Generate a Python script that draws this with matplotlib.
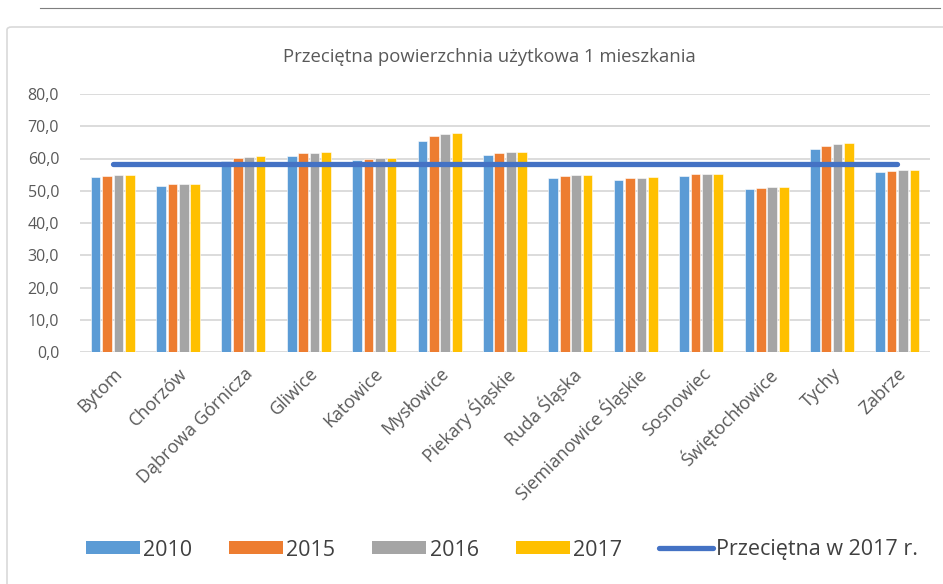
import numpy as np
import matplotlib.pyplot as plt
from matplotlib.patches import FancyBboxPatch, Patch
from matplotlib.lines import Line2D
from matplotlib.ticker import FuncFormatter

plt.rcParams['font.family'] = ['Open Sans', 'DejaVu Sans']

cities = ['Bytom', 'Chorzów', 'Dąbrowa Górnicza', 'Gliwice', 'Katowice',
          'Mysłowice', 'Piekary Śląskie', 'Ruda Śląska', 'Siemianowice Śląskie',
          'Sosnowiec', 'Świętochłowice', 'Tychy', 'Zabrze']
years = ['2010', '2015', '2016', '2017']
v2010 = [54.3, 51.5, 59.3, 60.9, 59.5, 65.4, 61.1, 53.9, 53.4, 54.5, 50.6, 62.8, 55.7]
v2015 = [54.7, 52.0, 60.3, 61.6, 60.0, 67.1, 61.7, 54.7, 53.9, 55.1, 51.0, 64.0, 56.2]
v2016 = [54.8, 52.1, 60.5, 61.8, 60.1, 67.5, 61.9, 54.9, 54.0, 55.2, 51.2, 64.4, 56.3]
v2017 = [54.8, 52.2, 60.7, 61.9, 60.1, 67.8, 62.0, 54.9, 54.2, 55.3, 51.2, 64.7, 56.5]
avg_2017 = 58.3
colors = ['#5b9bd5', '#ed7d31', '#a5a5a5', '#ffc000']
line_color = '#4472c4'

fig = plt.figure(figsize=(9.43, 5.84), dpi=100)

# outer chart frame and the rule above it
fig.patches.append(FancyBboxPatch((7 / 943, -0.1), 1.0, 1.1 - 27 / 584,
                                  boxstyle='round,pad=0,rounding_size=0.005',
                                  transform=fig.transFigure, facecolor='white',
                                  edgecolor='#d9d9d9', linewidth=1.2, zorder=-5))
fig.add_artist(Line2D([40 / 943, 940 / 943], [1 - 8 / 584, 1 - 8 / 584],
                      transform=fig.transFigure, color='#7f7f7f', linewidth=0.8))

ax = fig.add_axes([80 / 943, 1 - 352 / 584, 850 / 943, 258 / 584])
ax.set_facecolor('none')
ax.set_zorder(2)

x = np.arange(len(cities))
slot = 0.175
for i, (vals, yr) in enumerate(zip([v2010, v2015, v2016, v2017], years)):
    ax.bar(x + (i - 1.5) * slot, vals, width=0.148, color=colors[i],
           edgecolor='white', linewidth=0.4, zorder=2)
ax.plot(x, [avg_2017] * len(cities), color=line_color, linewidth=3.8,
        solid_capstyle='round', zorder=3)

ax.set_xlim(-0.5, len(cities) - 0.5)
ax.set_ylim(0, 80)
ax.set_yticks(np.arange(0, 81, 10))
ax.yaxis.set_major_formatter(FuncFormatter(lambda v, p: f'{v:.1f}'.replace('.', ',')))
ax.grid(axis='y', color='#d9d9d9', linewidth=1.3, zorder=0)
ax.set_axisbelow(True)
for s in ax.spines.values():
    s.set_visible(False)
ax.tick_params(axis='both', length=0, colors='#595959')
ax.tick_params(axis='y', pad=15, labelsize=11.5)
ax.tick_params(axis='x', pad=9, labelsize=13)
ax.set_xticks(x)
ax.set_xticklabels(cities, rotation=45, ha='right', rotation_mode='anchor')

fig.text(489 / 943, 1 - 57 / 584, 'Przeciętna powierzchnia użytkowa 1 mieszkania',
         ha='center', va='center', fontsize=13.3, color='#595959')

handles = [Patch(facecolor=c) for c in colors]
handles.append(Line2D([0], [0], color=line_color, linewidth=3.8, solid_capstyle='round'))
fig.legend(handles, years + ['Przeciętna w 2017 r.'], loc='center',
           bbox_to_anchor=(502 / 943, 1 - 550 / 584), ncol=5, frameon=False,
           fontsize=15.5, handlelength=2.5, handleheight=0.55, handletextpad=0.15,
           columnspacing=1.73, labelcolor='#404040')

fig.savefig('out.png', dpi=100)
